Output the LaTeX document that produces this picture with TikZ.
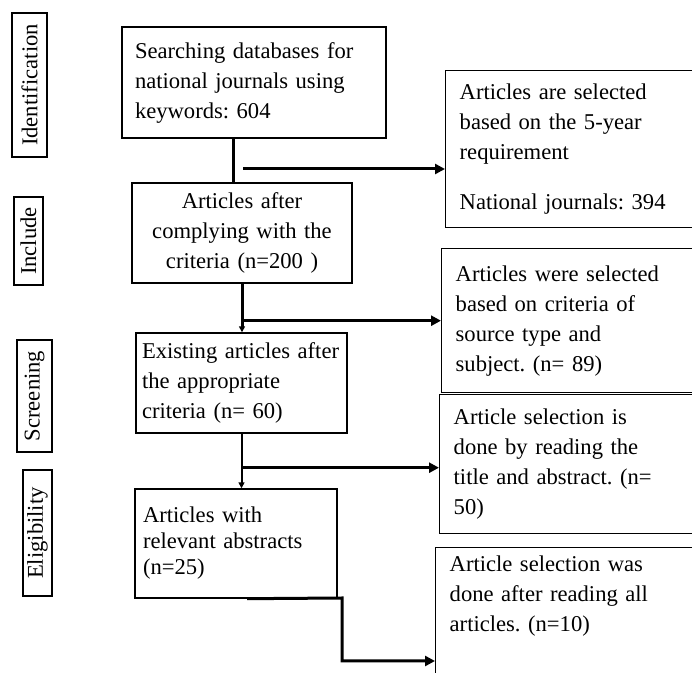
\documentclass[tikz,border=0pt]{standalone}
\usepackage{fontspec}
\setmainfont{Liberation Serif}
\frenchspacing
\usetikzlibrary{positioning, arrows.meta}

\tikzset{
  stage/.style={draw, rotate=90, minimum height=17.5pt, inner sep=1pt, line width=0.7pt},
  stepbox/.style={draw, line width=0.7pt, inner xsep=4pt, inner ysep=3pt},
  outbox/.style={draw, line width=0.7pt, anchor=north west, text width=120pt, align=left, inner xsep=7pt, inner ysep=4pt},
  link/.style={line width=1.5pt},
  flow/.style={line width=1.5pt, -{Triangle[length=5pt,width=5pt]}},
  down/.style={line width=#1, -{Triangle[length=3pt,width=3pt]}},
  down/.default=1pt,
}

\begin{document}
\begin{tikzpicture}[x=0.5pt, y=-0.5pt, font=\fontsize{11.3}{15}\selectfont]
  \useasboundingbox (0,0) rectangle (692,673);
  \clip (0,0) rectangle (692,673);

  % stages
  \node[stage, minimum width=72pt, minimum height=17.5pt] (ident) at (29.5,85) {Identification};
  \node[stage, minimum width=44pt, minimum height=14.5pt] (incl) at (28.5,241) {Include};
  \node[stage, minimum width=56pt, minimum height=17.5pt] (screen) at (34.5,396) {Screening};
  \node[stage, minimum width=63pt, minimum height=14.5pt] (elig) at (37.5,533) {Eligibility};

  % main column
  \node[stepbox, text width=119pt, inner xsep=6.5pt, minimum height=55.5pt, align=left] (search) at (254,82.5)
    {Searching databases for\\ national journals using\\ keywords: 604};
  \node[stepbox, text width=102pt, minimum height=50pt, align=center] (after) at (242,233)
    {Articles after\\ complying with the\\ criteria (n=200 )};
  \node[stepbox, text width=99.5pt, inner xsep=3pt, minimum height=50pt, align=left] (exist) at (241.5,383)
    {Existing articles after\\ the appropriate\\ criteria (n= 60)};
  \node[stepbox, text width=93pt, minimum height=54.5pt, align=left, font=\fontsize{11.3}{13}\selectfont] (relev) at (236,543.5)
    {Articles with\\ relevant abstracts\\ (n=25)};

  % excluded column
  \node[outbox, minimum height=78.5pt] (r1) at (445,70)
    {Articles are selected\\ based on the 5-year\\ requirement\\[10pt] National journals: 394};
  \node[outbox, minimum height=72pt] (r2) at (441,248)
    {Articles were selected\\ based on criteria of\\ source type and\\ subject. (n= 89)};
  \node[outbox, minimum height=69.5pt] (r3) at (439,394)
    {Article selection is\\ done by reading the\\ title and abstract. (n=\\ 50)};
  \node[outbox, text depth=80pt] (r4) at (435,547)
    {Article selection was\\ done after reading all\\ articles. (n=10)};

  % connectors
  \draw[link] ([xshift=-10.5pt]search.south) -- ([xshift=-10.5pt]search.south |- after.north);
  \coordinate (j1) at (243,169);
  \draw[flow] (j1) -- (j1 -| r1.west);
  \draw[down=1.5pt] (after.south) -- (after.south |- exist.north);
  \draw[flow] (r2.west -| after.south) -- (r2.west);
  \draw[down] (exist.south) -- (exist.south |- relev.north);
  \draw[flow] ([yshift=-1.75pt]r3.west -| exist.south) -- ([yshift=-1.75pt]r3.west);
  \coordinate (k1) at (342,598);
  \coordinate (k2) at (342,661);
  \draw[flow] ([xshift=5.5pt]relev.south) -- (k1) -- (k2) -- (k2 -| r4.west);
\end{tikzpicture}
\end{document}
